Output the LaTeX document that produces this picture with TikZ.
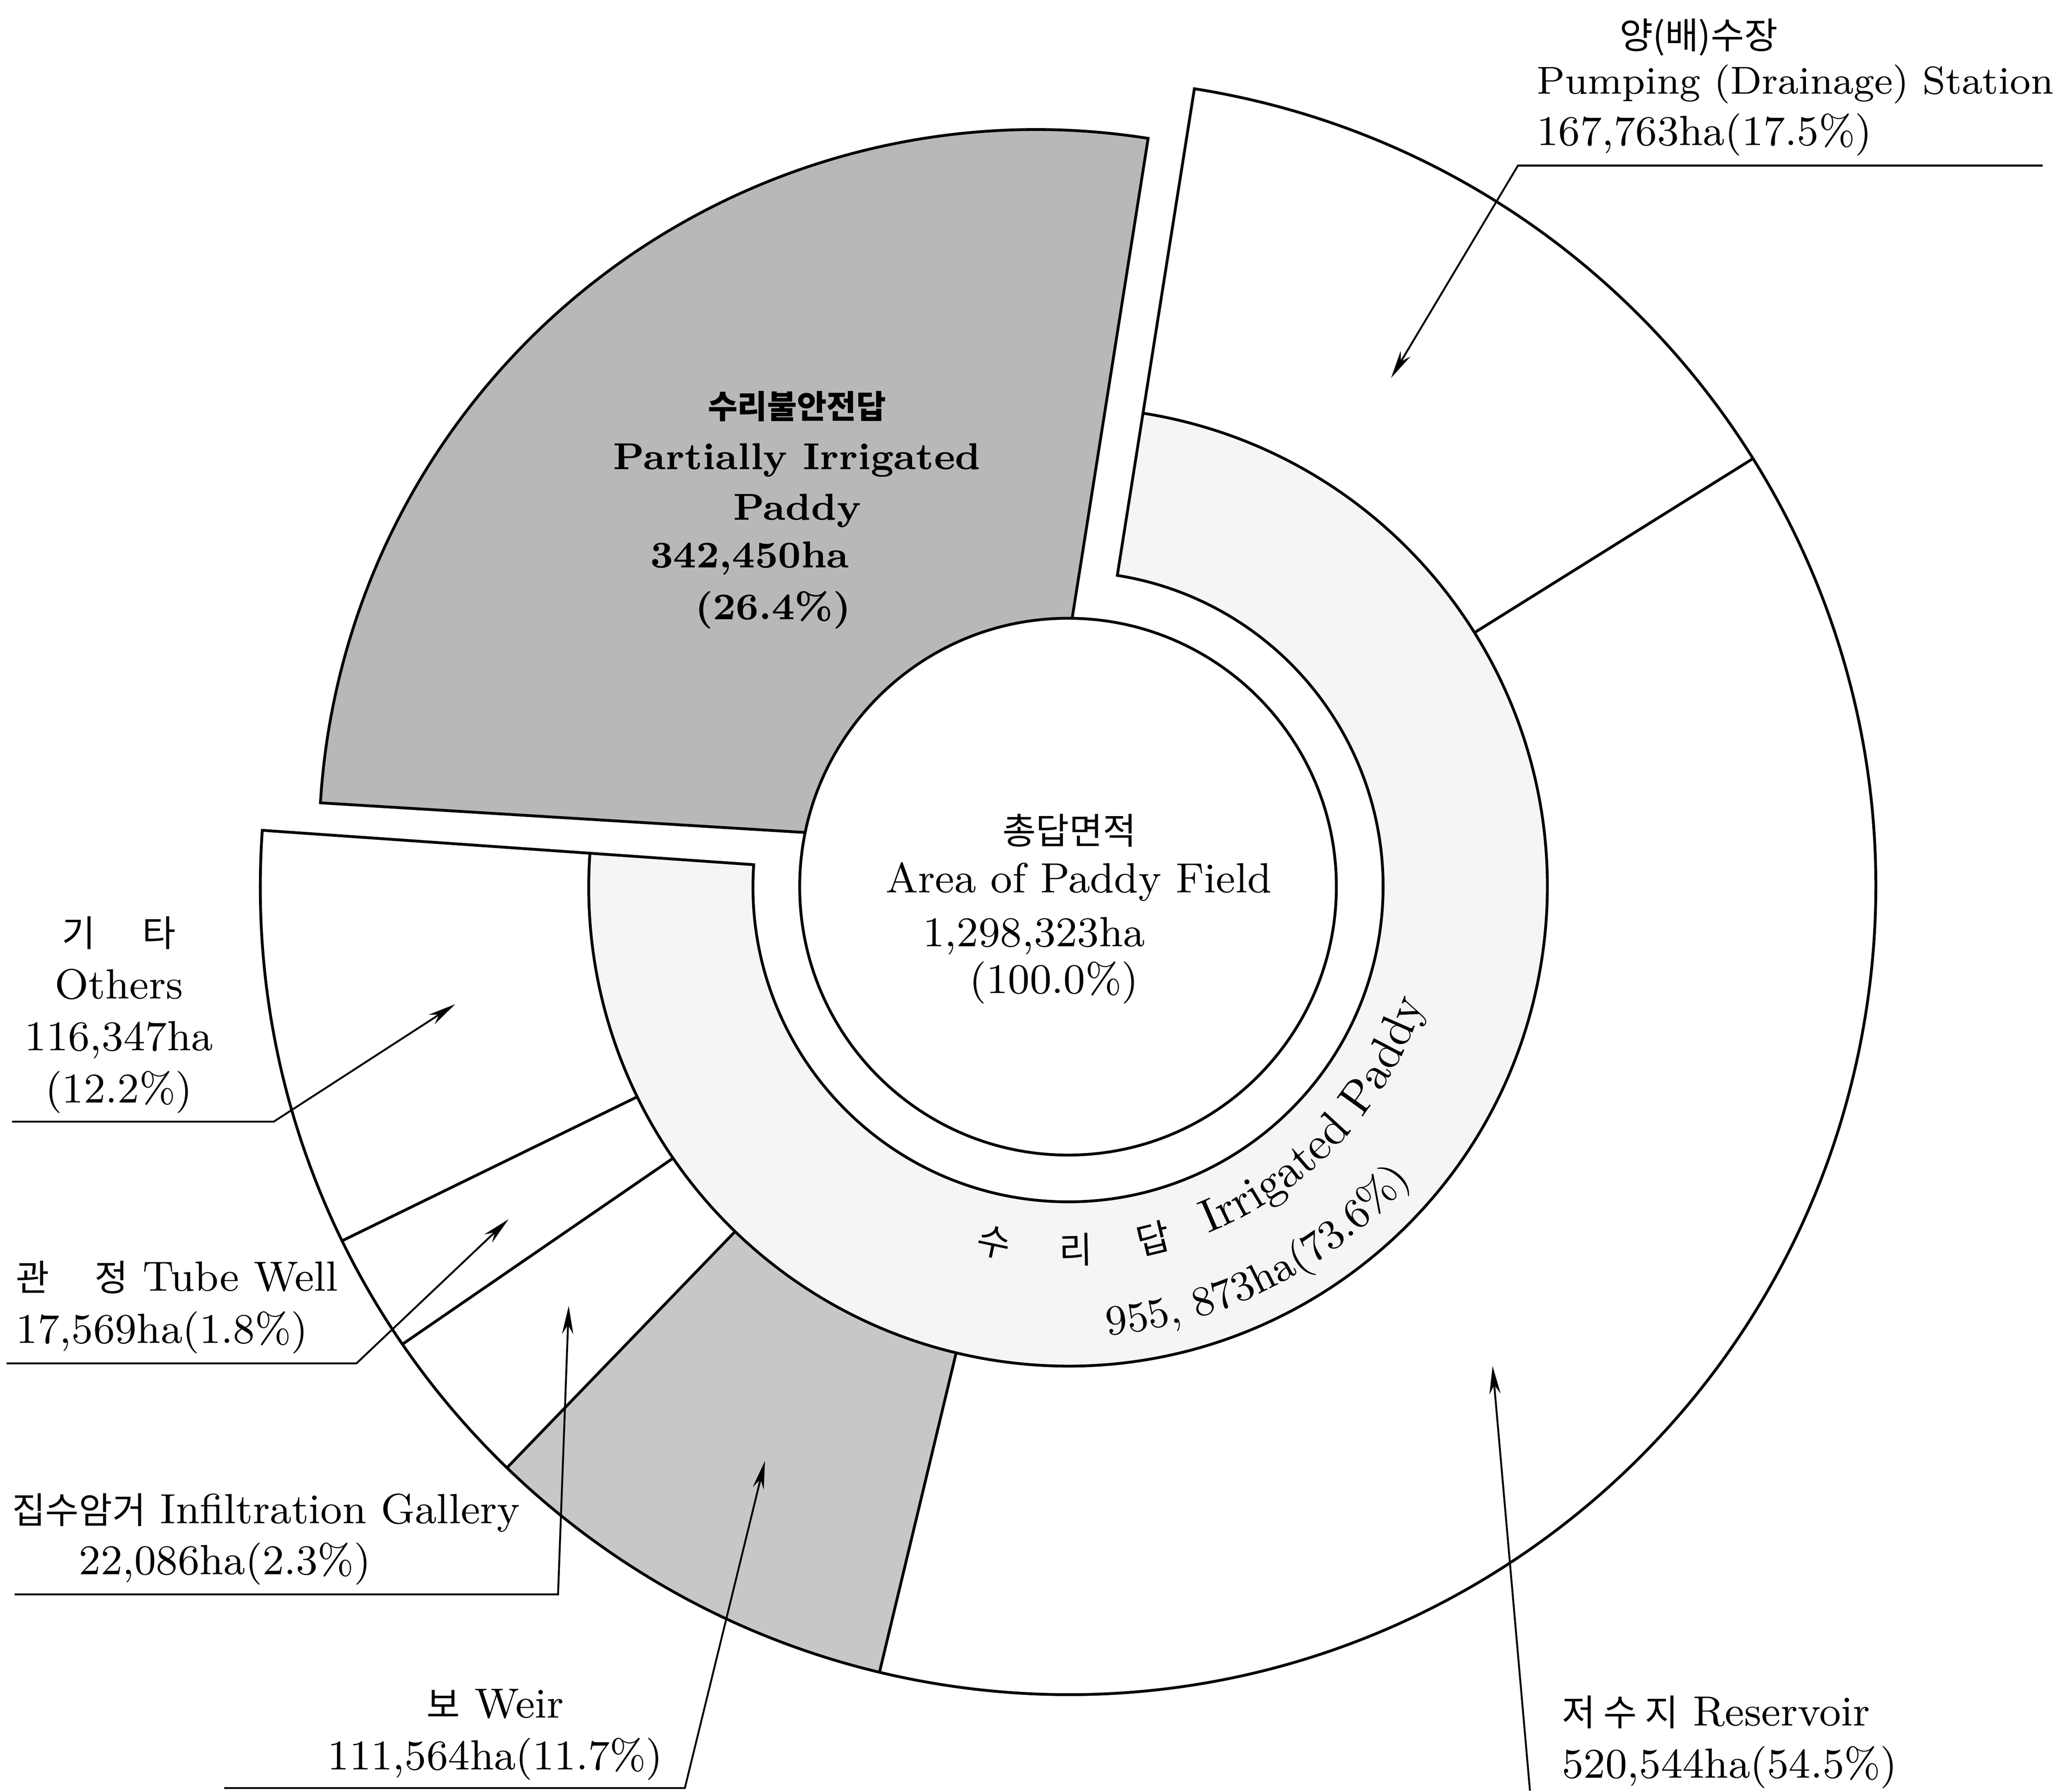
\documentclass[tikz,border=0pt]{standalone}
\usepackage{fontspec}
\newfontfamily\kr{Noto Sans CJK KR}[Scale=0.86]
\usepackage{tikz}
\usetikzlibrary{arrows.meta, decorations.text}
\newcommand\ringfont{\fontsize{10}{12}\selectfont}
\newcommand\ringsmall{\fontsize{9}{11}\selectfont}

\begin{document}
\begin{tikzpicture}[
            > = {Stealth[length=6pt, width=2.4pt]}, % arrow head style
            semithick, % line style
        ]
 \tikzstyle{lbl}=[inner sep = 0pt, font = \fontsize{9}{11.1}\selectfont]
 \tikzstyle{lblbold}=[inner sep = 0pt, align = center, font = \fontsize{8}{10.8}\selectfont\bfseries]
 \tikzstyle{ringko}=[inner sep = 0pt, font = \fontsize{9}{11}\selectfont\kr]
 \tikzstyle{leader}=[->, thin]
\useasboundingbox (-8.00,-6.77) rectangle (7.52,6.64);
% partially irrigated, pulled out
\draw[fill = black!28] (-0.24,0.30) -- ++(81:5.37) arc[start angle=81, end angle=176.5, radius=5.37] -- cycle;
% weir
\fill[black!22] (-103.5:3.59) -- (-103.5:6.05) arc[start angle=-103.5, end angle=-134, radius=6.05] -- (-134:3.59) arc[start angle=-134, end angle=-103.5, radius=3.59] -- cycle;
% irrigated ring
\draw[fill = black!4] (81:2.36) -- (81:3.59) arc[start angle=81, end angle=-184, radius=3.59] -- (-184:2.36) arc[start angle=-184, end angle=81, radius=2.36] -- cycle;
% outer ring
\draw (81:3.59) -- (81:6.05) arc[start angle=81, end angle=-184, radius=6.05] -- (-184:3.59);
\foreach \a in {32, -103.5, -134, -145.5, -154} \draw (\a:3.59) -- (\a:6.05);
% centre
\draw[fill = white] (0,0) circle[radius=2.01];
\node[lbl] (totKo) at (0.01,0.42) {\kr 총답면적};
\node[lbl] (totEn) at (0.08,0.035) {Area of Paddy Field};
\node[lbl] (totVal) at (-0.255,-0.37) {1,298,323ha};
\node[lbl] (totPct) at (-0.105,-0.72) {(100.0\%)};

\node[lblbold] (partLbl) at (-2.03,3.20) {{\kr 수리불안전답}\\Partially Irrigated\\Paddy};
\node[lblbold] (partVal) at (-2.385,2.46) {342,450ha};
\node[lblbold] (partPct) at (-2.21,2.07) {(26.4\%)};

\node[ringko, rotate=-11.8] (ringSu) at (-101.8:2.72) {수};
\node[ringko, rotate=1.2] (ringRi) at (-88.8:2.72) {리};
\node[ringko, rotate=13.6] (ringDap) at (-76.4:2.71) {답};
\path[decorate, decoration={text along path, text={|\ringfont|Irrigated Paddy}}] (-68:2.80) arc[start angle=-68, end angle=0, radius=2.80];
\path[decorate, decoration={text along path, text={|\ringsmall|955, 873ha(73.6{\%})}}] (-85:3.37) arc[start angle=-85, end angle=-10, radius=3.37];

\node[lbl, anchor=west] (pumpKo) at (4.12,6.36) {\kr 양(배)수장};
\node[lbl, anchor=west, font=\fontsize{8.3}{10}\selectfont] (pumpEn) at (3.50,6.01) {Pumping (Drainage) Station};
\node[lbl, anchor=west] (pumpVal) at (3.50,5.63) {167,763ha(17.5\%)};
\node[lbl, align=center] (othLbl) at (-7.11,-0.96) {{\kr 기\hspace{0.35cm}타}\\Others\\116,347ha\\(12.2\%)};
\node[lbl, anchor=west, align=left] (tubeLbl) at (-7.89,-3.15) {{\kr 관\hspace{0.34cm}정} Tube Well\\17,569ha(1.8\%)};
\node[lbl, anchor=west] (infLbl) at (-7.92,-4.69) {{\kr 집수암거} Infiltration Gallery};
\node[lbl] (infVal) at (-6.315,-5.07) {22,086ha(2.3\%)};
\node[lbl, align=center] (weirLbl) at (-4.29,-6.35) {{\kr 보} Weir\\111,564ha(11.7\%)};
\node[lbl, anchor=west, align=left] (resLbl) at (3.69,-6.405) {{\kr 저 수 지} Reservoir\\520,544ha(54.5\%)};

\coordinate (pumpA) at (7.30,5.40);
\coordinate (pumpB) at (3.37,5.40);
\coordinate (pumpTip) at (2.42,3.81);
\coordinate (othA) at (-7.91,-1.76);
\coordinate (othB) at (-5.95,-1.76);
\coordinate (othTip) at (-4.59,-0.88);
\coordinate (tubeA) at (-7.95,-3.57);
\coordinate (tubeB) at (-5.33,-3.57);
\coordinate (tubeTip) at (-4.19,-2.49);
\coordinate (infA) at (-7.89,-5.30);
\coordinate (infB) at (-3.82,-5.30);
\coordinate (infTip) at (-3.74,-3.14);
\coordinate (weirA) at (-6.32,-6.75);
\coordinate (weirB) at (-2.87,-6.75);
\coordinate (weirTip) at (-2.27,-4.30);
\coordinate (resA) at (3.46,-6.77);
\coordinate (resTip) at (3.18,-3.59);
\draw[leader] (pumpA) -- (pumpB) -- (pumpTip);
\draw[leader] (othA) -- (othB) -- (othTip);
\draw[leader] (tubeA) -- (tubeB) -- (tubeTip);
\draw[leader] (infA) -- (infB) -- (infTip);
\draw[leader] (weirA) -- (weirB) -- (weirTip);
\draw[leader] (resA) -- (resTip);
\end{tikzpicture}
\end{document}
